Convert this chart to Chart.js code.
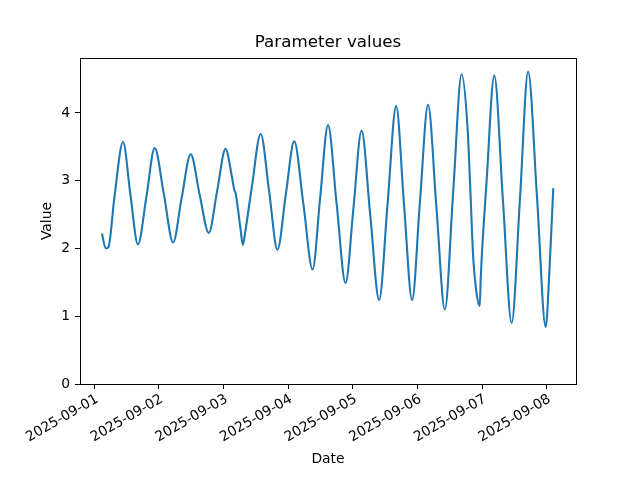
<!DOCTYPE html>
<html>
<head>
<meta charset="utf-8">
<script src="https://cdn.jsdelivr.net/npm/chart.js@4.4.1/dist/chart.umd.min.js"></script>
<style>
html,body{margin:0;padding:0;background:#fff;}
#wrap{width:640px;height:480px;}
</style>
</head>
<body>
<div id="wrap"><canvas id="c" width="640" height="480"></canvas></div>
<script>
const chartTitle = "Parameter values";
const xTitle = "Date";
const yTitle = "Value";
const dayTicks = ["2025-09-01","2025-09-02","2025-09-03","2025-09-04","2025-09-05","2025-09-06","2025-09-07","2025-09-08"];
const yTickValues = [0,1,2,3,4];
const times = [
"2025-09-01 02:52","2025-09-01 04:17","2025-09-01 05:17","2025-09-01 07:29","2025-09-01 10:42",
"2025-09-01 13:25","2025-09-01 16:14","2025-09-01 19:20","2025-09-01 22:27",
"2025-09-02 01:52","2025-09-02 05:17","2025-09-02 08:29","2025-09-02 11:49","2025-09-02 15:07",
"2025-09-02 18:32","2025-09-02 21:39",
"2025-09-03 00:46","2025-09-03 03:10","2025-09-03 03:58","2025-09-03 04:29","2025-09-03 06:17",
"2025-09-03 07:11","2025-09-03 07:59","2025-09-03 10:30","2025-09-03 13:49","2025-09-03 16:56",
"2025-09-03 20:02","2025-09-03 23:09",
"2025-09-04 02:16","2025-09-04 05:41","2025-09-04 09:05","2025-09-04 11:54","2025-09-04 14:49",
"2025-09-04 18:02","2025-09-04 21:20",
"2025-09-05 00:16","2025-09-05 03:16","2025-09-05 06:29","2025-09-05 09:48","2025-09-05 12:55",
"2025-09-05 16:07","2025-09-05 19:02","2025-09-05 22:03",
"2025-09-06 00:58","2025-09-06 03:58","2025-09-06 07:05","2025-09-06 10:12","2025-09-06 13:19",
"2025-09-06 16:25","2025-09-06 18:38","2025-09-06 19:44","2025-09-06 20:44","2025-09-06 21:56",
"2025-09-06 23:09","2025-09-06 23:33",
"2025-09-07 01:40","2025-09-07 04:34","2025-09-07 07:47","2025-09-07 11:00","2025-09-07 14:07",
"2025-09-07 17:07","2025-09-07 20:26","2025-09-07 23:39",
"2025-09-08 01:04","2025-09-08 02:28"
];
const values = [
2.22,2.00,2.02,2.75,3.57,
2.80,2.06,2.75,3.48,
2.80,2.09,2.75,3.39,2.80,
2.23,2.85,
3.47,3.05,2.87,2.82,2.30,
2.05,2.22,2.90,3.69,2.85,
1.98,2.80,
3.58,2.65,1.69,2.75,3.82,
2.65,1.49,
2.60,3.74,2.50,1.24,2.65,
4.10,2.65,1.24,
2.70,4.12,2.60,1.10,2.85,
4.57,3.78,2.80,1.86,1.35,
1.15,1.59,
2.97,4.55,2.70,0.90,2.75,
4.61,2.75,0.84,
1.70,2.89
];
const xRangeStart = "2025-08-31 18:43";
const xRangeEnd = "2025-09-08 10:54";
const yMax = 4.81;

function toMs(s){
  const [d,t] = s.split(" ");
  const [Y,M,D] = d.split("-").map(Number);
  const [h,m] = (t||"00:00").split(":").map(Number);
  return Date.UTC(Y,M-1,D,h,m);
}
function fmt(ms){
  const d = new Date(ms);
  const p = n => String(n).padStart(2,"0");
  return d.getUTCFullYear()+"-"+p(d.getUTCMonth()+1)+"-"+p(d.getUTCDate());
}
const points = times.map((t,i)=>({x:toMs(t), y:values[i]}));
const FONT = "'DejaVu Sans', sans-serif";

const framePlugin = {
  id:'frame',
  afterDatasetsDraw(chart){
    const a = chart.chartArea, ctx = chart.ctx;
    ctx.save();
    ctx.strokeStyle = '#000';
    ctx.lineWidth = 1;
    ctx.strokeRect(Math.round(a.left)+0.5, Math.round(a.top)+0.5, Math.round(a.right-a.left), Math.round(a.bottom-a.top));
    ctx.restore();
  }
};

new Chart(document.getElementById('c'), {
  type:'line',
  data:{datasets:[{
    data:points,
    borderColor:'#1f77b4',
    borderWidth:2.1,
    pointRadius:0,
    fill:false,
    cubicInterpolationMode:'monotone'
  }]},
  options:{
    responsive:false,
    animation:false,
    devicePixelRatio:1,
    layout:{padding:{left:0,right:64,top:0,bottom:0}},
    plugins:{
      legend:{display:false},
      tooltip:{enabled:false},
      title:{display:true,fullSize:false,text:chartTitle,color:'#000',font:{family:FONT,size:16.7,weight:'normal'},padding:{top:33,bottom:5}}
    },
    scales:{
      x:{
        type:'linear',
        min:toMs(xRangeStart),
        max:toMs(xRangeEnd),
        afterBuildTicks(s){ s.ticks = dayTicks.map(d=>({value:toMs(d)})); },
        afterFit(s){ s.height = 96; },
        grid:{display:true,drawOnChartArea:false,drawTicks:true,tickLength:5,color:'#000'},
        border:{display:false},
        ticks:{autoSkip:false,minRotation:30,maxRotation:30,padding:2,labelOffset:3,color:'#000',font:{family:FONT,size:13.9},callback:(v)=>fmt(v)},
        title:{display:true,text:xTitle,color:'#000',font:{family:FONT,size:13.9},padding:{top:0,bottom:12}}
      },
      y:{
        min:0,
        max:yMax,
        afterBuildTicks(s){ s.ticks = yTickValues.map(v=>({value:v})); },
        afterFit(s){ s.width = 80; },
        grid:{display:true,drawOnChartArea:false,drawTicks:true,tickLength:5,color:'#000'},
        border:{display:false},
        ticks:{padding:5,color:'#000',font:{family:FONT,size:13.9},callback:(v)=>String(v)},
        title:{display:true,text:yTitle,color:'#000',font:{family:FONT,size:13.9},padding:{top:39,bottom:0}}
      }
    }
  },
  plugins:[framePlugin]
});
</script>
</body>
</html>
